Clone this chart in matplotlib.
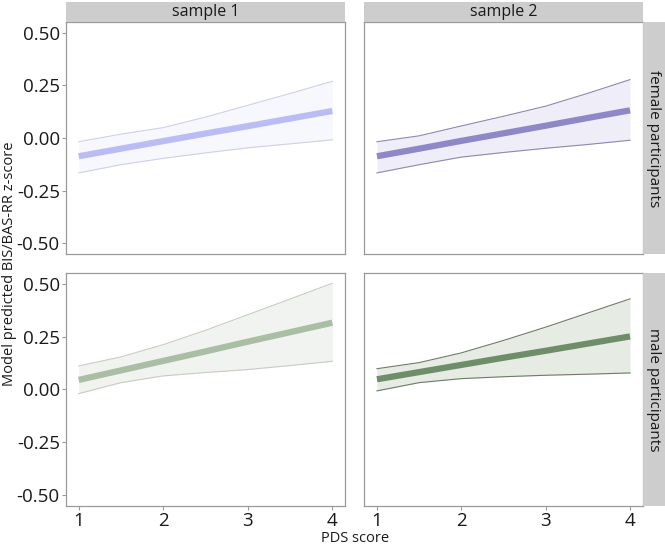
import matplotlib
matplotlib.use("Agg")
import matplotlib.pyplot as plt

plt.rcParams['font.family'] = ['Open Sans', 'DejaVu Sans']

pds = [1, 1.5, 2, 2.5, 3, 3.5, 4]
samples = ["sample 1", "sample 2"]
groups = ["female participants", "male participants"]

fit_s1_f = [-0.086, -0.050, -0.014, 0.022, 0.057, 0.093, 0.129]
upr_s1_f = [-0.017, 0.019, 0.050, 0.100, 0.156, 0.212, 0.270]
lwr_s1_f = [-0.165, -0.126, -0.096, -0.070, -0.046, -0.027, -0.008]

fit_s2_f = [-0.086, -0.050, -0.013, 0.023, 0.059, 0.096, 0.132]
upr_s2_f = [-0.017, 0.011, 0.058, 0.104, 0.152, 0.213, 0.278]
lwr_s2_f = [-0.165, -0.126, -0.090, -0.068, -0.048, -0.030, -0.010]

fit_s1_m = [0.045, 0.090, 0.135, 0.180, 0.226, 0.271, 0.316]
upr_s1_m = [0.111, 0.154, 0.212, 0.280, 0.354, 0.428, 0.503]
lwr_s1_m = [-0.020, 0.032, 0.064, 0.080, 0.094, 0.113, 0.133]

fit_s2_m = [0.048, 0.082, 0.116, 0.150, 0.183, 0.217, 0.251]
upr_s2_m = [0.098, 0.127, 0.173, 0.232, 0.295, 0.362, 0.429]
lwr_s2_m = [-0.007, 0.032, 0.051, 0.060, 0.067, 0.072, 0.078]

yticks = [-0.50, -0.25, 0.00, 0.25, 0.50]
xticks = [1, 2, 3, 4]

panels = {
    (0, 0): (fit_s1_f, upr_s1_f, lwr_s1_f, "#b9bdf3", "#f7f7fe", "#cfd0e6"),
    (0, 1): (fit_s2_f, upr_s2_f, lwr_s2_f, "#8f88c6", "#eeedf8", "#8d89ab"),
    (1, 0): (fit_s1_m, upr_s1_m, lwr_s1_m, "#a9bea4", "#f1f3f0", "#c6cdc4"),
    (1, 1): (fit_s2_m, upr_s2_m, lwr_s2_m, "#6f8d69", "#e6ebe4", "#6d7c69"),
}

W, H = 665, 547
fig = plt.figure(figsize=(W / 100, H / 100), dpi=100)

col_x = [(66, 345), (364.3, 642.7)]
row_y = [(22.3, 254), (273.3, 505.5)]
strip_col = "#cdcdcd"
border_col = "#9a9a9a"

for (r, c), (fit, upr, lwr, lc, fc, cc) in panels.items():
    x0, x1 = col_x[c]
    y0, y1 = row_y[r]
    ax = fig.add_axes([x0 / W, (H - y1) / H, (x1 - x0) / W, (y1 - y0) / H])
    ax.fill_between(pds, lwr, upr, color=fc, lw=0, zorder=1)
    ax.plot(pds, upr, color=cc, lw=0.8, zorder=2)
    ax.plot(pds, lwr, color=cc, lw=0.8, zorder=2)
    ax.plot(pds, fit, color=lc, lw=4.5, solid_capstyle='butt', zorder=3)
    ax.set_xlim(0.85, 4.15)
    ax.set_ylim(-0.55, 0.55)
    ax.set_yticks(yticks)
    ax.set_xticks(xticks)
    for s in ax.spines.values():
        s.set_color(border_col)
        s.set_linewidth(0.9)
    ax.tick_params(color=border_col, length=3, width=0.8, labelsize=13.5,
                   labelcolor="#1a1a1a", pad=1.5)
    if c == 0:
        ax.set_yticklabels([f"{v:.2f}" for v in yticks])
    else:
        ax.tick_params(labelleft=False, left=False)
    if r == 1:
        ax.set_xticklabels([str(v) for v in xticks])
    else:
        ax.tick_params(labelbottom=False, bottom=False)

# top strips
for c, name in enumerate(samples):
    x0, x1 = col_x[c]
    sax = fig.add_axes([x0 / W, (H - 22.3) / H, (x1 - x0) / W, 20.6 / H])
    sax.set_facecolor(strip_col)
    sax.set_xticks([]); sax.set_yticks([])
    for s in sax.spines.values():
        s.set_visible(False)
    sax.text(0.5, 0.48, name, ha="center", va="center", fontsize=11.5,
             color="#1a1a1a", transform=sax.transAxes)

# right strips
for r, name in enumerate(groups):
    y0, y1 = row_y[r]
    sax = fig.add_axes([642.7 / W, (H - y1) / H, (665 - 642.7) / W, (y1 - y0) / H])
    sax.set_facecolor(strip_col)
    sax.set_xticks([]); sax.set_yticks([])
    for s in sax.spines.values():
        s.set_visible(False)
    sax.text(0.5, 0.5, name, ha="center", va="center", fontsize=11,
             color="#1a1a1a", rotation=-90, transform=sax.transAxes)

fig.text(10 / W, 1 - 264 / H, "Model predicted BIS/BAS-RR z-score", rotation=90,
         ha="center", va="center", fontsize=10.5, color="#1a1a1a")
fig.text(355 / W, 1 - 538 / H, "PDS score", ha="center", va="center",
         fontsize=10.5, color="#1a1a1a")

fig.savefig("out.png", dpi=100)
